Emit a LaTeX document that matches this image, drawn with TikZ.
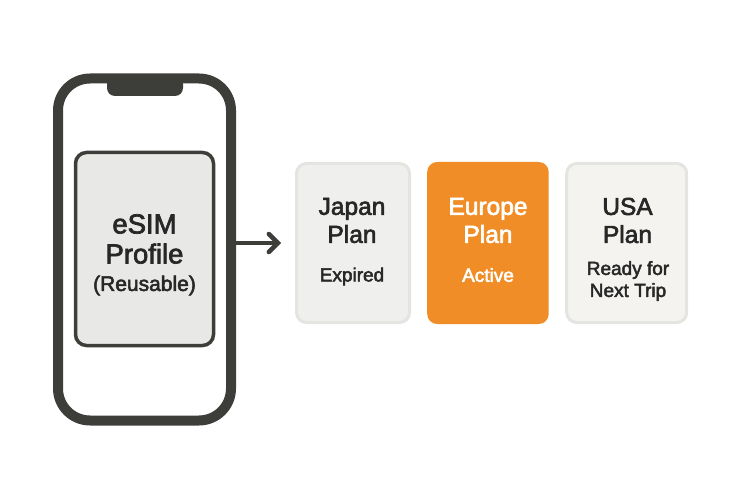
\documentclass[tikz,border=0pt]{standalone}
\usepackage{fontspec}
\setmainfont{Liberation Sans}[FakeBold = 2.5]
\usetikzlibrary{arrows.meta}
\usetikzlibrary{positioning}
\definecolor{phonegrey}{HTML}{3D3E3A}
\definecolor{simfill}{HTML}{E8E8E6}
\definecolor{cardedge}{HTML}{E4E4E1}
\definecolor{oldfill}{HTML}{EFEFED}
\definecolor{nextfill}{HTML}{F4F3EF}
\definecolor{activefill}{HTML}{F08D26}
\definecolor{inktext}{HTML}{262726}
\tikzset{phone/.style = {draw = phonegrey, line width = 10, rounded corners = 32, fill = white,
                         minimum width = 173, minimum height = 342, inner sep = 0}}
\tikzset{notch/.style = {fill = phonegrey, rounded corners = 8, inner sep = 0,
                         minimum width = 76, minimum height = 20}}
\tikzset{simcard/.style = {draw = phonegrey, line width = 3.5, rounded corners = 11, fill = simfill,
                           minimum width = 138, minimum height = 193, inner sep = 0}}
\tikzset{plan/.style = {draw = cardedge, line width = 3, rounded corners = 10, fill = oldfill,
                        minimum height = 159, inner sep = 0}}
\tikzset{title/.style = {align = center, font = \fontsize{24.5}{28}\selectfont, text = inktext}}
\tikzset{status/.style = {align = center, font = \fontsize{19}{22}\selectfont, text = inktext}}
\begin{document}
\begin{tikzpicture}[x = 1pt, y = -1pt]
    \useasboundingbox (0, 0) rectangle (750, 500);

    \node [phone] (handset) at (144.5, 249.5) {};
    \node [notch] (cutout) at (145, 86) {};
    \node [simcard] (profile) at (144.5, 249) {};
    \node [title, font = \fontsize{27.5}{30}\selectfont] (profilename) at (144.5, 239) {eSIM\\Profile};
    \node [status, font = \fontsize{21}{24}\selectfont] (profilenote) at (144.5, 285.5) {(Reusable)};

    \node [plan, minimum width = 113] (japan) at (353, 243) {};
    \node [plan, draw = none, fill = activefill, minimum width = 121.5, minimum height = 162,
           right = 14.7 of japan] (europe) {};
    \node [plan, fill = nextfill, minimum width = 120, right = 15 of europe] (usa) {};

    \node [title] (japanname) at (352, 220.5) {Japan\\Plan};
    \node [status] (japanstate) at (352, 276.5) {Expired};
    \node [title, text = white] (europename) at (488, 220.5) {Europe\\Plan};
    \node [status, text = white] (europestate) at (488, 275) {Active};
    \node [title] (usaname) at (627.5, 220.5) {USA\\Plan};
    \node [status] (usastate) at (628, 281) {Ready for\\Next Trip};

    \draw [phonegrey, line width = 4.5, shorten > = 14,
           -{Straight Barb[length = 9, width = 18, line width = 4.5, line cap = round]}]
        (handset.east |- japan.west) -- (japan.west);
  \end{tikzpicture}
\end{document}
